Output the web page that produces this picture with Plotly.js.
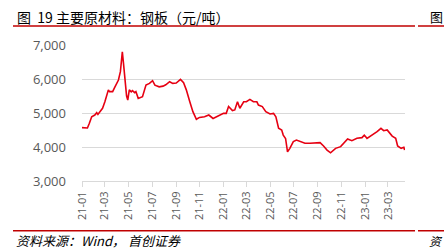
<!DOCTYPE html>
<html><head><meta charset="utf-8">
<script src="https://cdn.plot.ly/plotly-3.0.1.min.js"></script>
<style>html,body{margin:0;padding:0;background:#fff;}#chart{width:444px;height:249px;}</style>
</head><body><div id="chart"></div>
<script>
const dates = [
 "2021-01-01","2021-01-10","2021-01-15","2021-01-20","2021-01-26","2021-02-03","2021-02-08","2021-02-11","2021-02-17","2021-02-23",
 "2021-03-01","2021-03-05","2021-03-10","2021-03-13","2021-03-21","2021-03-27","2021-04-05","2021-04-10","2021-04-13","2021-04-15",
 "2021-04-18","2021-04-23","2021-04-26","2021-04-29","2021-05-03","2021-05-08","2021-05-11","2021-05-17","2021-05-20","2021-05-26",
 "2021-06-01","2021-06-06","2021-06-15","2021-06-24","2021-07-02","2021-07-06","2021-07-08","2021-07-12","2021-07-19","2021-07-29",
 "2021-08-05","2021-08-15","2021-08-23","2021-09-01","2021-09-12","2021-09-20","2021-09-27","2021-10-06","2021-10-14","2021-10-23",
 "2021-10-31","2021-11-13","2021-11-24","2021-12-05","2021-12-18","2022-01-01","2022-01-08","2022-01-14","2022-01-24","2022-01-30",
 "2022-02-06","2022-02-12","2022-02-22","2022-03-01","2022-03-10","2022-03-19","2022-03-28","2022-04-01","2022-04-11","2022-04-20",
 "2022-05-01","2022-05-10","2022-05-16","2022-05-23","2022-05-31","2022-06-04","2022-06-10","2022-06-15","2022-06-21","2022-06-30",
 "2022-07-08","2022-07-19","2022-07-30","2022-08-12","2022-08-25","2022-09-07","2022-09-16","2022-09-25","2022-10-04","2022-10-17",
 "2022-10-30","2022-11-09","2022-11-17","2022-11-28","2022-12-11","2022-12-24","2022-12-30","2023-01-06","2023-01-19","2023-02-01",
 "2023-02-11","2023-02-18","2023-02-27","2023-03-12","2023-03-21","2023-03-26","2023-04-04","2023-04-11","2023-04-13"
];
const prices = [
 4570,4550,4560,4700,4890,4940,5010,4960,5040,5140,
 5330,5500,5680,5630,5630,5770,5970,6215,6500,6800,
 6460,5870,5500,5380,5680,5620,5660,5600,5630,5430,
 5460,5480,5820,5870,5950,5870,5820,5800,5770,5790,
 5830,5920,5870,5880,5990,5890,5680,5330,5040,4815,
 4870,4890,4940,4840,4910,4990,4990,5190,5070,5090,
 5330,5140,5330,5330,5400,5330,5330,5235,5190,5040,
 4970,4990,4890,4550,4500,4350,4250,3860,3960,4160,
 4205,4160,4110,4110,4110,4130,4030,3910,3830,3960,
 4010,4130,4235,4185,4255,4275,4350,4255,4350,4450,
 4550,4480,4500,4320,4255,4030,3960,3990,3910
];
const yTicks = [3000,4000,5000,6000,7000];
const titleText = "图\u00a0\u00a019\u00a0主要原材料：钢板（元/吨）";
const sourceText = "资料来源：Wind， 首创证券";

const cjk = '"Noto Sans CJK SC", sans-serif';
const trace = {
  x: dates, y: prices, type: 'scatter', mode: 'lines',
  line: {color: '#e60012', width: 1.6}, hoverinfo: 'skip'
};
const layout = {
  width: 444, height: 249,
  margin: {l: 82, r: 39, t: 45, b: 68},
  paper_bgcolor: '#fff', plot_bgcolor: '#fff',
  showlegend: false,
  xaxis: {
    type: 'date', range: ['2021-01-01', '2023-04-14'],
    tick0: '2021-01-01', dtick: 'M2', tickformat: '%y-%m', tickangle: -90,
    showgrid: false, zeroline: false,
    showline: true, linecolor: '#d9d9d9', linewidth: 1,
    ticks: 'outside', ticklen: 5, tickcolor: '#d9d9d9',
    tickfont: {family: '"Open Sans", sans-serif', size: 11, color: '#595959'}
  },
  yaxis: {
    range: [3000, 7000], tickvals: yTicks, tickformat: ',d',
    showgrid: true, gridcolor: '#d9d9d9', gridwidth: 1, zeroline: false,
    showline: false, ticks: '', ticklabelstandoff: 15,
    tickfont: {family: '"Open Sans", sans-serif', size: 13, color: '#595959'}
  },
  shapes: [
    {type: 'line', xref: 'paper', yref: 'paper', x0: -0.2136, x1: 1.0310, y0: 1.1397, y1: 1.1397, line: {color: '#c00000', width: 1.6}},
    {type: 'line', xref: 'paper', yref: 'paper', x0: 1.0402, x1: 1.2, y0: 1.1397, y1: 1.1397, line: {color: '#c00000', width: 1.6}},
    {type: 'line', xref: 'paper', yref: 'paper', x0: -0.2136, x1: 1.0310, y0: -0.3654, y1: -0.3654, line: {color: '#c00000', width: 1.6}},
    {type: 'line', xref: 'paper', yref: 'paper', x0: 1.0402, x1: 1.2, y0: -0.3654, y1: -0.3654, line: {color: '#c00000', width: 1.6}}
  ],
  annotations: [
    {text: titleText, xref: 'paper', yref: 'paper', x: -0.2074, y: 1.206, xanchor: 'left', yanchor: 'middle', showarrow: false,
     font: {family: cjk, size: 14, color: '#000'}},
    {text: '图', xref: 'paper', yref: 'paper', x: 1.0712, y: 1.206, xanchor: 'left', yanchor: 'middle', showarrow: false,
     font: {family: cjk, size: 13, color: '#000'}},
    {text: '<i>' + sourceText + '</i>', xref: 'paper', yref: 'paper', x: -0.2074, y: -0.4375, xanchor: 'left', yanchor: 'middle', showarrow: false,
     borderpad: 0, font: {family: cjk, size: 13, color: '#000'}},
    {text: '<i>资</i>', xref: 'paper', yref: 'paper', x: 1.0712, y: -0.4375, xanchor: 'left', yanchor: 'middle', showarrow: false,
     borderpad: 0, font: {family: cjk, size: 12, color: '#000'}}
  ]
};
Plotly.newPlot('chart', [trace], layout, {staticPlot: true, displayModeBar: false});
</script>
</body></html>
